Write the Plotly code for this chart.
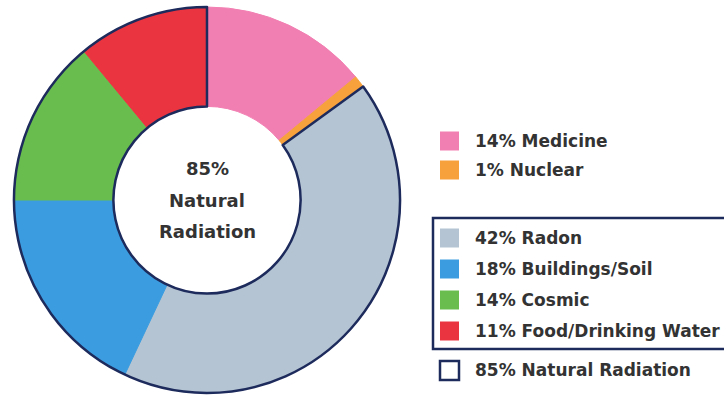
import plotly.graph_objects as go

# Sources of radiation exposure (percent of total dose)
labels = ["Medicine", "Nuclear", "Radon", "Buildings/Soil", "Cosmic", "Food/Drinking Water"]
shares = [14, 1, 42, 18, 14, 11]
colors = ["#f27fb2", "#f6a13c", "#b4c4d2", "#3b9de0", "#69bd4e", "#ea3440"]
natural = [False, False, True, True, True, True]

group_labels = ["Man-made", "Natural Radiation"]
group_shares = [sum(s for s, n in zip(shares, natural) if not n),
                sum(s for s, n in zip(shares, natural) if n)]

W, H = 727, 396
NAVY = "#1d2a5c"
TEXT = "#333333"
FONT = "DejaVu Sans"


def px(x):
    return x / W


def py(y):
    return 1 - y / H


domain = dict(x=[px(14), px(400)], y=[py(393), py(7)])

fig = go.Figure()

# Individual sources
fig.add_trace(go.Pie(
    labels=labels, values=shares, sort=False, direction="clockwise", rotation=0,
    hole=0.485, domain=domain,
    marker=dict(colors=colors, line=dict(color=colors, width=1)),
    textinfo="none", hoverinfo="label+percent", showlegend=False,
))

# Outline around the natural-radiation group
fig.add_trace(go.Pie(
    labels=group_labels, values=group_shares, sort=False, direction="clockwise", rotation=0,
    hole=0.485, domain=domain,
    marker=dict(colors=["rgba(0,0,0,0)", "rgba(0,0,0,0)"],
                line=dict(color=NAVY, width=[0, 2.5])),
    textinfo="none", hoverinfo="skip", showlegend=False,
))

shapes = []
annotations = []

# Center label
center_lines = [f"{group_shares[1]}%", "Natural", "Radiation"]
for text, y in zip(center_lines, [168, 200, 231]):
    annotations.append(dict(
        x=px(207), y=py(y), xref="paper", yref="paper", text=text, showarrow=False,
        xanchor="center", yanchor="middle",
        font=dict(family=FONT, size=18, color=TEXT, weight="bold"),
    ))

# Legend rows
row_y = [141, 170, 238, 269, 300, 331]
for lab, val, col, y in zip(labels, shares, colors, row_y):
    shapes.append(dict(type="rect", xref="paper", yref="paper",
                       x0=px(440), x1=px(459), y0=py(y + 9.5), y1=py(y - 9.5),
                       fillcolor=col, line=dict(width=0)))
    annotations.append(dict(
        x=px(473), y=py(y), xref="paper", yref="paper", text=f"{val}% {lab}",
        showarrow=False, xanchor="left", yanchor="middle",
        font=dict(family=FONT, size=17, color=TEXT, weight="bold"),
    ))

# Open bracket grouping the natural sources (left, top and bottom edges)
bx0, bx1, by0, by1 = px(433), px(724), py(218), py(349)
shapes.append(dict(type="path", xref="paper", yref="paper",
                   path=f"M {bx1},{by0} L {bx0},{by0} L {bx0},{by1} L {bx1},{by1}",
                   line=dict(color=NAVY, width=2.5)))

# Natural radiation key
shapes.append(dict(type="rect", xref="paper", yref="paper",
                   x0=px(440), x1=px(459), y0=py(380), y1=py(361),
                   fillcolor="white", line=dict(color=NAVY, width=2.5)))
annotations.append(dict(
    x=px(473), y=py(370), xref="paper", yref="paper",
    text=f"{group_shares[1]}% {group_labels[1]}",
    showarrow=False, xanchor="left", yanchor="middle",
    font=dict(family=FONT, size=17, color=TEXT, weight="bold"),
))

fig.update_layout(
    width=W, height=H, margin=dict(l=0, r=0, t=0, b=0),
    paper_bgcolor="white", plot_bgcolor="white",
    shapes=shapes, annotations=annotations, showlegend=False,
)

fig.write_html("out.html")
